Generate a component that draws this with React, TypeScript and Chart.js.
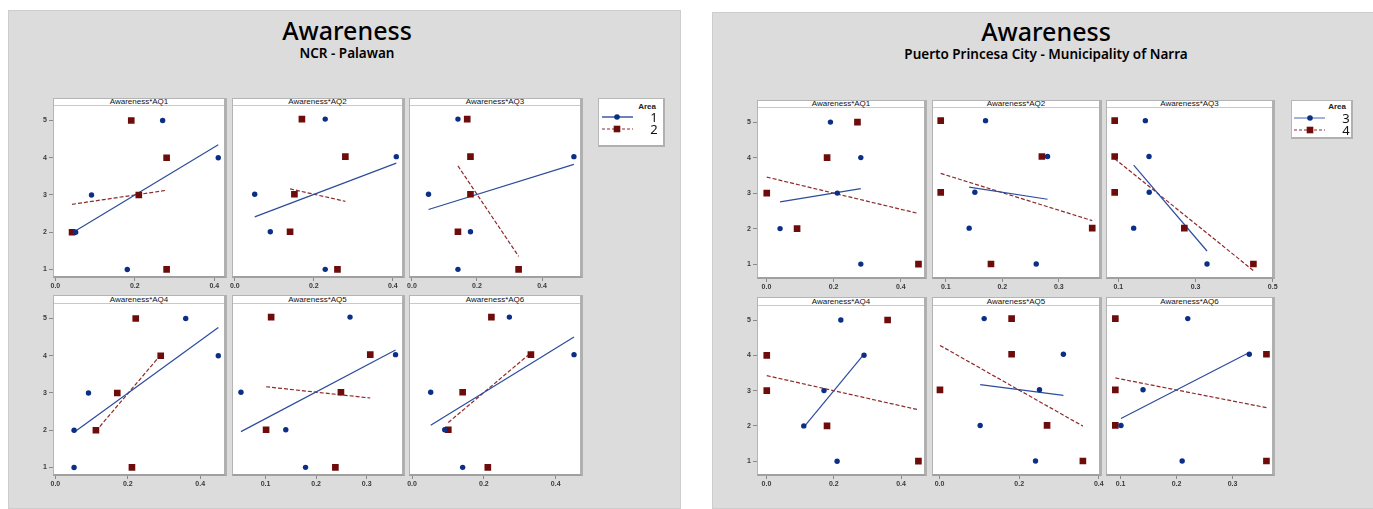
import React, { useEffect, useRef } from "react";
import { Chart, registerables } from "chart.js";

Chart.register(...registerables);

// ---------------- DATA ----------------
const awarenessLevels = [5, 4, 3, 2, 1];
const panelTitles = [
  "Awareness*AQ1",
  "Awareness*AQ2",
  "Awareness*AQ3",
  "Awareness*AQ4",
  "Awareness*AQ5",
  "Awareness*AQ6",
];

// NCR - Palawan : x values (AQ proportion) for awareness levels 5,4,3,2,1
const area1 = [
  [0.27, 0.41, 0.091, 0.051, 0.181],
  [0.229, 0.409, 0.0505, 0.09, 0.229],
  [0.1415, 0.498, 0.051, 0.18, 0.1415],
  [0.36, 0.45, 0.0915, 0.0517, 0.0517],
  [0.267, 0.357, 0.0513, 0.14, 0.179],
  [0.271, 0.451, 0.052, 0.091, 0.141],
];
const area2 = [
  [0.191, 0.28, 0.21, 0.042, 0.28],
  [0.17, 0.28, 0.151, 0.14, 0.26],
  [0.17, 0.18, 0.18, 0.1415, 0.328],
  [0.222, 0.291, 0.171, 0.112, 0.2115],
  [0.111, 0.307, 0.249, 0.101, 0.238],
  [0.221, 0.331, 0.141, 0.101, 0.211],
];

// Puerto Princesa City - Municipality of Narra
const area3 = [
  [0.1906, 0.281, 0.211, 0.0407, 0.281],
  [0.1704, 0.28, 0.1515, 0.1414, 0.26],
  [0.17, 0.1795, 0.18, 0.1397, 0.3298],
  [0.221, 0.29, 0.171, 0.111, 0.21],
  [0.112, 0.311, 0.251, 0.102, 0.241],
  [0.22, 0.33, 0.14, 0.1006, 0.21],
];
const area4 = [
  [0.271, 0.1806, 0.001, 0.0913, 0.4526],
  [0.0911, 0.27, 0.0911, 0.359, 0.18],
  [0.0905, 0.0905, 0.0905, 0.271, 0.45],
  [0.36, 0.001, 0.001, 0.18, 0.4515],
  [0.181, 0.181, 0.001, 0.27, 0.36],
  [0.0905, 0.3607, 0.0905, 0.0905, 0.3607],
];

const leftXMin = [-0.006, -0.007, -0.009, -0.0065, 0.0336, -0.0084];
const leftXMax = [0.432, 0.431, 0.526, 0.474, 0.3757, 0.476];
const leftXTicks = [
  [0, 0.2, 0.4],
  [0, 0.2, 0.4],
  [0, 0.2, 0.4],
  [0, 0.2, 0.4],
  [0.1, 0.2, 0.3],
  [0, 0.2, 0.4],
];
const rightXMin = [-0.028, 0.0757, 0.068, -0.028, -0.019, 0.0738];
const rightXMax = [0.478, 0.3763, 0.506, 0.477, 0.408, 0.376];
const rightXTicks = [
  [0, 0.2, 0.4],
  [0.1, 0.2, 0.3],
  [0.1, 0.3, 0.5],
  [0, 0.2, 0.4],
  [0, 0.2, 0.4],
  [0.1, 0.2, 0.3],
];
const yTicks = [1, 2, 3, 4, 5];
const leftYRange = [0.77, 5.25];
const rightYRange = [0.58, 5.25];

// ---------------- STYLE / LAYOUT ----------------
const BLUE_PT = "#0b2f86";
const RED_PT = "#6e0b0b";
const BLUE_LN = "#2c4c9c";
const RED_LN = "#8e2a2a";
const TICK_FONT = { family: '"Liberation Sans", Arial, sans-serif', size: 7, weight: "bold" as const };
const Y_AXIS_W = 20;
const X_AXIS_H = 14;
const PAD_R = 12;

const figures = [
  {
    title: "Awareness",
    subtitle: "NCR - Palawan",
    box: { x: 8, y: 10, w: 673, h: 499 },
    titleCx: 347,
    titleTop: 15,
    subTop: 44,
    cols: [
      [53, 227],
      [232, 405],
      [409, 583],
    ],
    rows: [
      [98, 105, 278],
      [295, 303, 476],
    ],
    legend: { x: 598, y: 98, w: 67, h: 49, r1: 19, r2: 31, lineX0: 4, lineX1: 35, mk: 19, lab: 55, areaTop: 3, areaRight: 7 },
    legendLabels: ["1", "2"],
    legendBlue: "#1f3f95",
    seriesA: area1,
    seriesB: area2,
    xMin: leftXMin,
    xMax: leftXMax,
    xTicks: leftXTicks,
    yRange: leftYRange,
  },
  {
    title: "Awareness",
    subtitle: "Puerto Princesa City - Municipality of Narra",
    box: { x: 712, y: 12, w: 668, h: 497 },
    titleCx: 1046,
    titleTop: 16,
    subTop: 45,
    cols: [
      [757, 927],
      [932, 1102],
      [1106, 1275],
    ],
    rows: [
      [100, 107, 279],
      [297, 305, 476],
    ],
    legend: { x: 1291, y: 100, w: 62, h: 39, r1: 18, r2: 30, lineX0: 3, lineX1: 34, mk: 19, lab: 54, areaTop: 1, areaRight: 5 },
    legendLabels: ["3", "4"],
    legendBlue: "#6f88c8",
    seriesA: area3,
    seriesB: area4,
    xMin: rightXMin,
    xMax: rightXMax,
    xTicks: rightXTicks,
    yRange: rightYRange,
  },
];

// ---------------- HELPERS ----------------
function toPoints(xs: number[]) {
  return xs.map((x, i) => ({ x, y: awarenessLevels[i] }));
}

function fitLine(xs: number[]) {
  const ys = awarenessLevels;
  const n = xs.length;
  const mx = xs.reduce((a, b) => a + b, 0) / n;
  const my = ys.reduce((a, b) => a + b, 0) / n;
  let sxy = 0;
  let sxx = 0;
  for (let i = 0; i < n; i++) {
    sxy += (xs[i] - mx) * (ys[i] - my);
    sxx += (xs[i] - mx) * (xs[i] - mx);
  }
  const slope = sxy / sxx;
  const b = my - slope * mx;
  const x0 = Math.min(...xs);
  const x1 = Math.max(...xs);
  return [
    { x: x0, y: b + slope * x0 },
    { x: x1, y: b + slope * x1 },
  ];
}

type PanelProps = {
  left: number;
  top: number;
  width: number;
  height: number;
  xsA: number[];
  xsB: number[];
  xMin: number;
  xMax: number;
  xTicks: number[];
  yMin: number;
  yMax: number;
  showY: boolean;
};

function Panel(p: PanelProps) {
  const ref = useRef<HTMLCanvasElement | null>(null);
  useEffect(() => {
    if (!ref.current) return;
    const chart = new Chart(ref.current, {
      type: "scatter",
      data: {
        datasets: [
          {
            data: toPoints(p.xsA),
            pointStyle: "circle",
            pointRadius: 2.7,
            backgroundColor: BLUE_PT,
            borderColor: BLUE_PT,
            borderWidth: 0,
          },
          {
            data: toPoints(p.xsB),
            pointStyle: "rect",
            pointRadius: 4.7,
            backgroundColor: RED_PT,
            borderColor: RED_PT,
            borderWidth: 0,
          },
          {
            data: fitLine(p.xsA),
            showLine: true,
            pointRadius: 0,
            borderColor: BLUE_LN,
            borderWidth: 1.2,
          },
          {
            data: fitLine(p.xsB),
            showLine: true,
            pointRadius: 0,
            borderColor: RED_LN,
            borderWidth: 1.2,
            borderDash: [4, 2],
          },
        ],
      } as any,
      options: {
        responsive: false,
        animation: false,
        events: [],
        layout: { padding: { left: 0, right: PAD_R, top: 0, bottom: 0 } },
        plugins: { legend: { display: false }, tooltip: { enabled: false }, title: { display: false } },
        scales: {
          x: {
            type: "linear",
            bounds: "data",
            min: p.xMin,
            max: p.xMax,
            afterBuildTicks: (s: any) => {
              s.ticks = p.xTicks.map((v) => ({ value: v }));
            },
            afterFit: (s: any) => {
              s.height = X_AXIS_H;
            },
            border: { display: false },
            grid: { drawOnChartArea: false, drawTicks: true, tickLength: 3, color: "#8a8a8a" },
            ticks: {
              autoSkip: false,
              maxRotation: 0,
              padding: 1,
              color: "#3a3a3a",
              font: TICK_FONT,
              callback: (v: any) => Number(v).toFixed(1),
            },
          },
          y: {
            type: "linear",
            bounds: "data",
            position: "left",
            min: p.yMin,
            max: p.yMax,
            afterBuildTicks: (s: any) => {
              s.ticks = yTicks.map((v) => ({ value: v }));
            },
            afterFit: (s: any) => {
              s.width = Y_AXIS_W;
            },
            border: { display: false },
            grid: { display: p.showY, drawOnChartArea: false, drawTicks: true, tickLength: 4, color: "#8a8a8a" },
            ticks: {
              display: p.showY,
              padding: 2,
              color: "#3a3a3a",
              font: TICK_FONT,
              callback: (v: any) => String(v),
            },
          },
        },
      } as any,
    });
    return () => chart.destroy();
  }, []);
  return (
    <canvas
      ref={ref}
      width={p.width}
      height={p.height}
      style={{ position: "absolute", left: p.left, top: p.top, width: p.width, height: p.height }}
    />
  );
}

function Figure({ f }: { f: (typeof figures)[number] }) {
  const frames: React.ReactNode[] = [];
  const panels: React.ReactNode[] = [];
  for (let r = 0; r < 2; r++) {
    for (let c = 0; c < 3; c++) {
      const i = r * 3 + c;
      const [x0, x1] = f.cols[c];
      const [t, hb, b] = f.rows[r];
      frames.push(
        <div
          key={"fr" + i}
          style={{
            position: "absolute",
            left: x0,
            top: t,
            width: x1 - x0,
            height: b - t,
            background: "#ffffff",
            borderTop: "1px solid #b4b4b4",
            borderLeft: "1px solid #b4b4b4",
            borderRight: "3px solid #b0b0b0",
            borderBottom: "2px solid #a0a0a0",
            boxSizing: "border-box",
          }}
        >
          <div
            style={{
              position: "absolute",
              left: 0,
              right: 0,
              top: 0,
              height: hb - t - 1,
              borderBottom: "1px solid #c9c9c9",
              fontFamily: '"Liberation Sans", Arial, sans-serif',
              fontSize: 8,
              lineHeight: hb - t - 1 + "px",
              color: "#111",
              textAlign: "center",
              whiteSpace: "nowrap",
            }}
          >
            {panelTitles[i]}
          </div>
        </div>
      );
      panels.push(
        <Panel
          key={"p" + i}
          left={x0 - Y_AXIS_W}
          top={hb}
          width={x1 - x0 + Y_AXIS_W + PAD_R}
          height={b - hb + X_AXIS_H}
          xsA={f.seriesA[i]}
          xsB={f.seriesB[i]}
          xMin={f.xMin[i]}
          xMax={f.xMax[i]}
          xTicks={f.xTicks[i]}
          yMin={f.yRange[0]}
          yMax={f.yRange[1]}
          showY={c === 0}
        />
      );
    }
  }
  const lg = f.legend;
  return (
    <>
      <div
        style={{
          position: "absolute",
          left: f.box.x,
          top: f.box.y,
          width: f.box.w,
          height: f.box.h,
          background: "#dcdcdc",
          border: "1px solid #cdcdcd",
          boxSizing: "border-box",
        }}
      />
      <div
        style={{
          position: "absolute",
          left: f.titleCx - 300,
          width: 600,
          top: f.titleTop,
          textAlign: "center",
          fontFamily: '"Noto Sans", "Open Sans", sans-serif',
          fontSize: 25,
          fontWeight: 500,
          lineHeight: "30px",
          color: "#000",
        }}
      >
        {f.title}
      </div>
      <div
        style={{
          position: "absolute",
          left: f.titleCx - 300,
          width: 600,
          top: f.subTop,
          textAlign: "center",
          fontFamily: '"Noto Sans", "Open Sans", sans-serif',
          fontSize: 13.5,
          fontWeight: 600,
          lineHeight: "18px",
          color: "#000",
        }}
      >
        {f.subtitle}
      </div>
      {frames}
      {panels}
      <div
        style={{
          position: "absolute",
          left: lg.x,
          top: lg.y,
          width: lg.w,
          height: lg.h,
          background: "#fff",
          border: "1px solid #b8b8b8",
          borderRight: "2px solid #b0b0b0",
          borderBottom: "2px solid #b0b0b0",
          boxSizing: "border-box",
        }}
      >
        <div
          style={{
            position: "absolute",
            right: lg.areaRight,
            top: lg.areaTop,
            fontFamily: '"Liberation Sans", Arial, sans-serif',
            fontSize: 8,
            fontWeight: "bold",
            color: "#222",
          }}
        >
          Area
        </div>
        <svg width={lg.w} height={lg.h} style={{ position: "absolute", left: -1, top: -1 }}>
          <line x1={lg.lineX0} x2={lg.lineX1} y1={lg.r1} y2={lg.r1} stroke={f.legendBlue} strokeWidth={1.3} />
          <circle cx={lg.mk} cy={lg.r1} r={2.8} fill={BLUE_PT} />
          <line
            x1={lg.lineX0}
            x2={lg.lineX1}
            y1={lg.r2}
            y2={lg.r2}
            stroke={RED_LN}
            strokeWidth={1.2}
            strokeDasharray="3 2"
          />
          <rect x={lg.mk - 3.3} y={lg.r2 - 3.3} width={6.6} height={6.6} fill={RED_PT} />
        </svg>
        {[0, 1].map((k) => (
          <div
            key={k}
            style={{
              position: "absolute",
              left: lg.lab - 5,
              width: 10,
              top: (k === 0 ? lg.r1 : lg.r2) - 9,
              height: 16,
              lineHeight: "16px",
              textAlign: "center",
              fontFamily: '"Noto Sans", sans-serif',
              fontSize: 13,
              color: "#111",
            }}
          >
            {f.legendLabels[k]}
          </div>
        ))}
      </div>
    </>
  );
}

export default function App() {
  return (
    <div
      style={{
        position: "absolute",
        left: 0,
        top: 0,
        width: 1373,
        height: 509,
        overflow: "hidden",
        background: "#ffffff",
      }}
    >
      {figures.map((f, i) => (
        <Figure key={i} f={f} />
      ))}
    </div>
  );
}
